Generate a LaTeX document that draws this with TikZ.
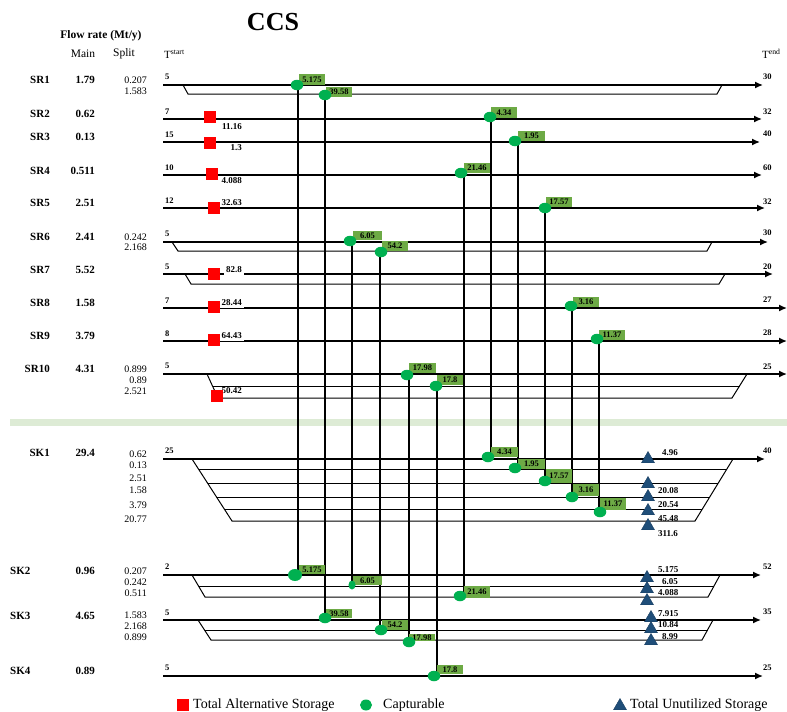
\documentclass[tikz,border=0pt]{standalone}
\usepackage{fontspec}
\setmainfont{Liberation Serif}
\usetikzlibrary{arrows.meta,shapes.geometric}
\definecolor{boxgreen}{HTML}{6DAA45}
\definecolor{capgreen}{HTML}{00B050}
\definecolor{navyblue}{HTML}{1F4E79}
\definecolor{bandgreen}{HTML}{DDEBD5}
\newcommand\glab[6]{\node[gbox,minimum width={#4-#2},minimum height={#5-#3}] (#1) at ({(#2+#4)/2},{(#3+#5)/2}) {#6};}
\begin{document}
\begin{tikzpicture}[x=1pt,y=-1pt,
  every node/.style={inner sep=0pt},
  mainline/.style={line width=1.4pt},
  splitline/.style={line width=1pt},
  flowarrow/.style={mainline,-{Latex[length=8pt,width=7pt]}},
  vlink/.style={line width=1.3pt},
  gbox/.style={fill=boxgreen,font=\fontsize{8.5}{9}\selectfont\bfseries},
  capdot/.style={ellipse,fill=capgreen,minimum width=12.5pt,minimum height=10.5pt},
  altsq/.style={fill=red,minimum size=12pt},
  unutil/.style={regular polygon,regular polygon sides=3,fill=navyblue,draw=navyblue!80!black,line width=0.4pt,minimum size=15pt},
  rowlab/.style={font=\fontsize{11}{13}\selectfont\bfseries},
  splitval/.style={font=\fontsize{10}{12}\selectfont,anchor=east},
  tnum/.style={font=\fontsize{8.5}{9}\selectfont\bfseries,anchor=west},
  vallab/.style={font=\fontsize{9}{10}\selectfont\bfseries},
  legtext/.style={font=\fontsize{14}{16}\selectfont,anchor=west}]
\useasboundingbox (0,0) rectangle (787,712);
% separator band
\fill[bandgreen] (10,419) rectangle (787,426);

% main stream lines
\foreach \n/\y/\e in {sr1/85/763,sr2/119/762,sr3/142/760,sr4/175/762,sr5/208/765,sr6/242/768,sr7/274/773,sr8/308/787,sr9/341/787,sr10/374/787,sk1/459/765,sk2/575/761,sk3/620/761,sk4/676/763}{
  \coordinate (\n s) at (163,\y);
  \coordinate (\n e) at (\e,\y);
  \draw[flowarrow] (\n s) -- (\n e);
}
% split lines
\draw[splitline] (183,85) -- (188,94) -- (717,94) -- (722,85);
\draw[splitline] (172,242) -- (178,251) -- (707,251) -- (712,242);
\draw[splitline] (185,274) -- (191,284) -- (719,284) -- (725,274);
\draw[splitline] (207,374) -- (218,398) -- (732,398) -- (747,374);
\draw[splitline] (212.5,386) -- (739.5,386);
% SK1 splits
\draw[splitline] (192,459) -- (232,521) -- (695,521) -- (733,459);
\draw[splitline] (198.5,469) -- (726.9,469);
\draw[splitline] (207.5,483) -- (718.3,483);
\draw[splitline] (216.5,497) -- (709.7,497);
\draw[splitline] (224.3,509) -- (702.4,509);
% SK2 splits
\draw[splitline] (192,575) -- (205,597) -- (708,597) -- (720,575);
\draw[splitline] (198.5,586) -- (714,586);
% SK3 splits
\draw[splitline] (198,620) -- (211,640) -- (702,640) -- (713,620);
\draw[splitline] (204.5,630) -- (707.5,630);

% capture links
\foreach \n/\x/\yt/\yb in {c1/298/85/575,c2/325/94/620,c3/491/119/459,c4/518/142/469,c5/464/175/597,c6/545/208/483,c7/352/242/586,c8/380/251/630,c9/572/308/497,c10/599/341/509,c11/409/374/640,c12/437/386/676}{
  \coordinate (\n t) at (\x,\yt);
  \coordinate (\n b) at (\x,\yb);
  \draw[vlink] (\n t) -- (\n b);
}

% green value boxes (top / bottom)
\glab{g1t}{299}{74}{325}{85}{5.175}
\glab{g1b}{299}{565}{325}{574}{5.175}
\glab{g2t}{326}{87}{352}{97}{39.58}
\glab{g2b}{326}{609}{352}{618}{39.58}
\glab{g3t}{491}{107}{517}{118}{4.34}
\glab{g3b}{491}{447}{518}{457}{4.34}
\glab{g4t}{518}{131}{545}{141}{1.95}
\glab{g4b}{518}{459}{545}{469}{1.95}
\glab{g5t}{464}{163}{490}{173}{21.46}
\glab{g5b}{464}{586}{490}{598}{21.46}
\glab{g6t}{546}{197}{572}{207}{17.57}
\glab{g6b}{546}{469}{572}{483}{17.57}
\glab{g7t}{353}{231}{382}{240}{6.05}
\glab{g7b}{353}{576}{382}{585}{6.05}
\glab{g8t}{382}{241}{408}{251}{54.2}
\glab{g8b}{382}{620}{408}{630}{54.2}
\glab{g9t}{573}{297}{599}{307}{3.16}
\glab{g9b}{573}{484}{599}{496}{3.16}
\glab{g10t}{599}{330}{625}{340}{11.37}
\glab{g10b}{600}{498}{626}{510}{11.37}
\glab{g11t}{409}{363}{436}{373}{17.98}
\glab{g11b}{409}{634}{435}{641}{17.98}
\glab{g12t}{437}{375}{463}{385}{17.8}
\glab{g12b}{437}{665}{463}{674}{17.8}

% capturable dots
\node[capdot] (d1t) at (297,85) {};
\node[capdot,minimum width=14pt,minimum height=12pt] (d1b) at (295,575) {};
\node[capdot] (d2t) at (325,95) {};
\node[capdot] (d2b) at (325,618) {};
\node[capdot] (d3t) at (490,117) {};
\node[capdot] (d3b) at (488,457) {};
\node[capdot] (d4t) at (515,141) {};
\node[capdot] (d4b) at (515,468) {};
\node[capdot] (d5t) at (461,173) {};
\node[capdot] (d5b) at (460,596) {};
\node[capdot] (d6t) at (545,208) {};
\node[capdot] (d6b) at (545,481) {};
\node[capdot] (d7t) at (350,241) {};
\node[capdot,minimum width=7pt,minimum height=9pt] (d7b) at (352,585) {};
\node[capdot] (d8t) at (381,252) {};
\node[capdot] (d8b) at (381,630) {};
\node[capdot] (d9t) at (571,306) {};
\node[capdot] (d9b) at (572,497) {};
\node[capdot] (d10t) at (597,339) {};
\node[capdot] (d10b) at (600,512) {};
\node[capdot] (d11t) at (407,375) {};
\node[capdot] (d11b) at (409,642) {};
\node[capdot] (d12t) at (436,386) {};
\node[capdot] (d12b) at (434,676) {};

% alternative storage values and squares
\node[vallab,anchor=east] (a2l) at (242,127) {11.16};
\node[vallab,anchor=east] (a3l) at (242,148) {1.3};
\node[vallab,anchor=east] (a4l) at (242,181) {4.088};
\node[vallab,anchor=east] (a5l) at (242,203) {32.63};
\node[vallab,anchor=east,fill=white,inner sep=2pt] (a7l) at (244,270) {82.8};
\node[vallab,anchor=east,fill=white,inner sep=2pt] (a8l) at (244,303) {28.44};
\node[vallab,anchor=east,fill=white,inner sep=2pt] (a9l) at (244,336) {64.43};
\node[vallab,anchor=east] (a10l) at (242,391) {50.42};
\node[altsq] (a2) at (210,117) {};
\node[altsq] (a3) at (210,143) {};
\node[altsq] (a4) at (212,174) {};
\node[altsq] (a5) at (214,208) {};
\node[altsq] (a7) at (214,274) {};
\node[altsq] (a8) at (214,307) {};
\node[altsq] (a9) at (214,340) {};
\node[altsq] (a10) at (217,396) {};

% unutilized storage triangles
\node[unutil] (u1) at (648,459) {};
\node[unutil] (u2) at (648,484) {};
\node[unutil] (u3) at (648,497) {};
\node[unutil] (u4) at (648,511) {};
\node[unutil] (u5) at (648,526) {};
\node[vallab,anchor=west] (u1l) at (662,453) {4.96};
\node[vallab,anchor=west] (u2l) at (658,491) {20.08};
\node[vallab,anchor=west] (u3l) at (658,505) {20.54};
\node[vallab,anchor=west] (u4l) at (658,519) {45.48};
\node[vallab,anchor=west] (u5l) at (658,534) {311.6};
\node[unutil] (u6) at (647,578) {};
\node[unutil] (u7) at (647,589) {};
\node[unutil] (u8) at (647,601) {};
\node[vallab,anchor=west] (u6l) at (658,570) {5.175};
\node[vallab,anchor=west] (u7l) at (662,582) {6.05};
\node[vallab,anchor=west] (u8l) at (658,593) {4.088};
\node[unutil] (u9) at (651,618) {};
\node[unutil] (u10) at (651,629) {};
\node[unutil] (u11) at (651,641) {};
\node[vallab,anchor=west] (u9l) at (658,614) {7.915};
\node[vallab,anchor=west] (u10l) at (658,625) {10.84};
\node[vallab,anchor=west] (u11l) at (662,637) {8.99};

% headings
\node[font=\fontsize{26}{28}\selectfont\bfseries] (title) at (273,22) {CCS};
\node[font=\fontsize{11.5}{13}\selectfont\bfseries] (flowh) at (101,36) {Flow rate (Mt/y)};
\node[font=\fontsize{11.5}{13}\selectfont] (mainh) at (83,54) {Main};
\node[font=\fontsize{11.5}{13}\selectfont] (splith) at (124,54) {Split};
\node[font=\fontsize{11}{13}\selectfont,anchor=west] (tst) at (164,54) {T\textsuperscript{start}};
\node[font=\fontsize{11}{13}\selectfont,anchor=west] (tend) at (762,54) {T\textsuperscript{end}};

% row labels and main flow rates
\foreach \n/\y/\v in {SR1/80/1.79,SR2/114/0.62,SR3/137/0.13,SR4/171/0.511,SR5/203/2.51,SR6/237/2.41,SR7/270/5.52,SR8/303/1.58,SR9/336/3.79,SR10/369/4.31,SK1/453/29.4}{
  \node[rowlab,anchor=east] (lab\n) at (50,\y) {\n};
  \node[rowlab,anchor=east] (val\n) at (95,\y) {\v};
}
\foreach \n/\y/\v in {SK2/571/0.96,SK3/616/4.65,SK4/671/0.89}{
  \node[rowlab,anchor=west] (lab\n) at (10,\y) {\n};
  \node[rowlab,anchor=east] (val\n) at (95,\y) {\v};
}
% split values
\foreach \k/\y/\v in {1/80/0.207,2/91/1.583,3/237/0.242,4/247/2.168,5/369/0.899,6/380/0.89,7/391/2.521,8/454/0.62,9/465/0.13,10/478/2.51,11/490/1.58,12/505/3.79,13/519/20.77,14/571/0.207,15/582/0.242,16/593/0.511,17/615/1.583,18/626/2.168,19/637/0.899}{
  \node[splitval] (sv\k) at (147,\y) {\v};
}
% start temperatures
\foreach \k/\y/\v in {1/77/5,2/112/7,3/135/15,4/168/10,5/201/12,6/234/5,7/267/5,8/301/7,9/334/8,10/366/5,11/451/25,12/567/2,13/613/5,14/668/5}{
  \node[tnum] (ts\k) at (165,\y) {\v};
}
% end temperatures
\foreach \k/\y/\v in {1/77/30,2/112/32,3/134/40,4/168/60,5/202/32,6/233/30,7/267/20,8/300/27,9/333/28,10/367/25,11/451/40,12/567/52,13/612/35,14/668/25}{
  \node[tnum] (te\k) at (763,\y) {\v};
}

% legend
\node[altsq] (lsq) at (183,705) {};
\node[legtext] (lsqt) at (193,705) {Total Alternative Storage};
\node[capdot,minimum width=12pt,minimum height=11pt] (ldot) at (366,705) {};
\node[legtext] (ldott) at (383,705) {Capturable};
\node[unutil] (ltri) at (620,706) {};
\node[legtext] (ltrit) at (630,705) {Total Unutilized Storage};
\end{tikzpicture}
\end{document}
